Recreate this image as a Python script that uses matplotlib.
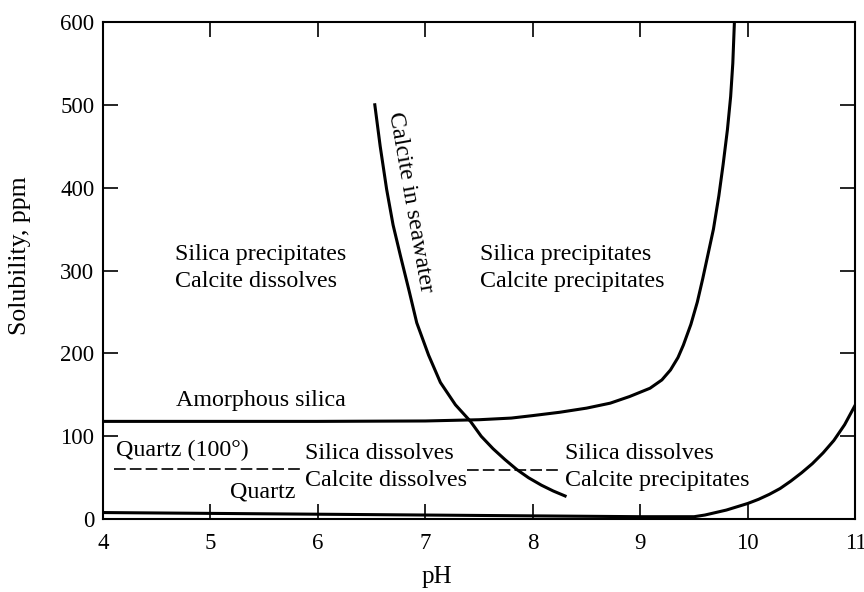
import numpy as np
import matplotlib
matplotlib.use("Agg")
from matplotlib import pyplot as plt

# curves (pH, ppm)
amorph_ph = [4.0, 6.0, 7.0, 7.5, 7.8, 8.0, 8.25, 8.5, 8.72, 8.9, 9.09, 9.2, 9.28, 9.35, 9.40,
             9.47, 9.53, 9.58, 9.63, 9.68, 9.73, 9.77, 9.81, 9.84, 9.86, 9.875]
amorph_ppm = [118, 118, 118.5, 120, 122, 125, 129, 134, 140, 148, 158, 168, 180, 195, 210,
              235, 262, 290, 320, 350, 390, 428, 470, 510, 550, 600]

quartz_ph = [4.0, 5.0, 6.0, 7.0, 8.0, 9.0, 9.5, 9.6, 9.7, 9.8, 9.9, 10.0, 10.1, 10.2, 10.3,
             10.4, 10.5, 10.6, 10.7, 10.8, 10.9, 11.0]
quartz_ppm = [8, 7, 6, 5, 4, 3, 3, 5, 8, 11, 15, 19, 24, 30, 37,
              46, 56, 67, 80, 95, 114, 138]

calcite_ph = [6.53, 6.58, 6.64, 6.70, 6.77, 6.85, 6.92, 7.03, 7.14, 7.28, 7.42, 7.52, 7.63,
              7.74, 7.85, 7.96, 8.08, 8.19, 8.30]
calcite_ppm = [500, 450, 398, 355, 317, 275, 237, 198, 165, 138, 118, 100, 85,
               72, 60, 50, 41, 34, 28]

q100_ph = [4.1, 5.85]
q100_ppm = [61, 61]
q100b_ph = [7.39, 8.26]
q100b_ppm = [59, 59]

xticks = [4, 5, 6, 7, 8, 9, 10, 11]
yticks = [0, 100, 200, 300, 400, 500, 600]

plt.rcParams['font.family'] = ['Liberation Serif', 'DejaVu Serif']

fig = plt.figure(figsize=(8.64, 5.92), dpi=100)
ax = fig.add_axes([0.119, 0.123, 0.871, 0.840])

lw = 2.2
ax.plot(amorph_ph, amorph_ppm, color='black', lw=lw, solid_joinstyle='round')
ax.plot(quartz_ph, quartz_ppm, color='black', lw=lw, solid_joinstyle='round')
ax.plot(calcite_ph, calcite_ppm, color='black', lw=lw, solid_joinstyle='round')
ax.plot(q100_ph, q100_ppm, color='black', lw=1.2, dashes=(7, 2.5))
ax.plot(q100b_ph, q100b_ppm, color='black', lw=1.2, dashes=(7, 2.5))

ax.set_xlim(4, 11)
ax.set_ylim(0, 600)
ax.set_xticks(xticks)
ax.set_yticks(yticks)
ax.tick_params(direction='in', length=11, width=1.2, top=True, right=True,
               labelsize=16.5)
ax.tick_params(axis='x', pad=10)
ax.tick_params(axis='y', pad=6)
for s in ax.spines.values():
    s.set_linewidth(1.5)

ax.set_xlabel('pH', fontsize=18)
ax.xaxis.set_label_coords((437 - 103) / 752, -0.095)
ax.set_ylabel('Solubility, ppm', fontsize=18.5)
ax.yaxis.set_label_coords(-0.096, 0.53)

fs = 17.3
ls = 1.4
ax.text(4.67, 303, 'Silica precipitates\nCalcite dissolves', fontsize=fs,
        va='center', linespacing=ls)
ax.text(7.51, 303, 'Silica precipitates\nCalcite precipitates', fontsize=fs,
        va='center', linespacing=ls)
ax.text(4.68, 143, 'Amorphous silica', fontsize=fs, va='center')
ax.text(4.12, 83, 'Quartz (100°)', fontsize=fs, va='center')
ax.text(5.18, 33, 'Quartz', fontsize=fs, va='center')
ax.text(5.88, 63, 'Silica dissolves\nCalcite dissolves', fontsize=fs,
        va='center', linespacing=ls)
ax.text(8.30, 63, 'Silica dissolves\nCalcite precipitates', fontsize=fs,
        va='center', linespacing=ls)
ax.text(6.86, 383, 'Calcite in seawater', fontsize=fs, rotation=-80,
        ha='center', va='center', rotation_mode='anchor')

fig.savefig('out.png', dpi=100)
